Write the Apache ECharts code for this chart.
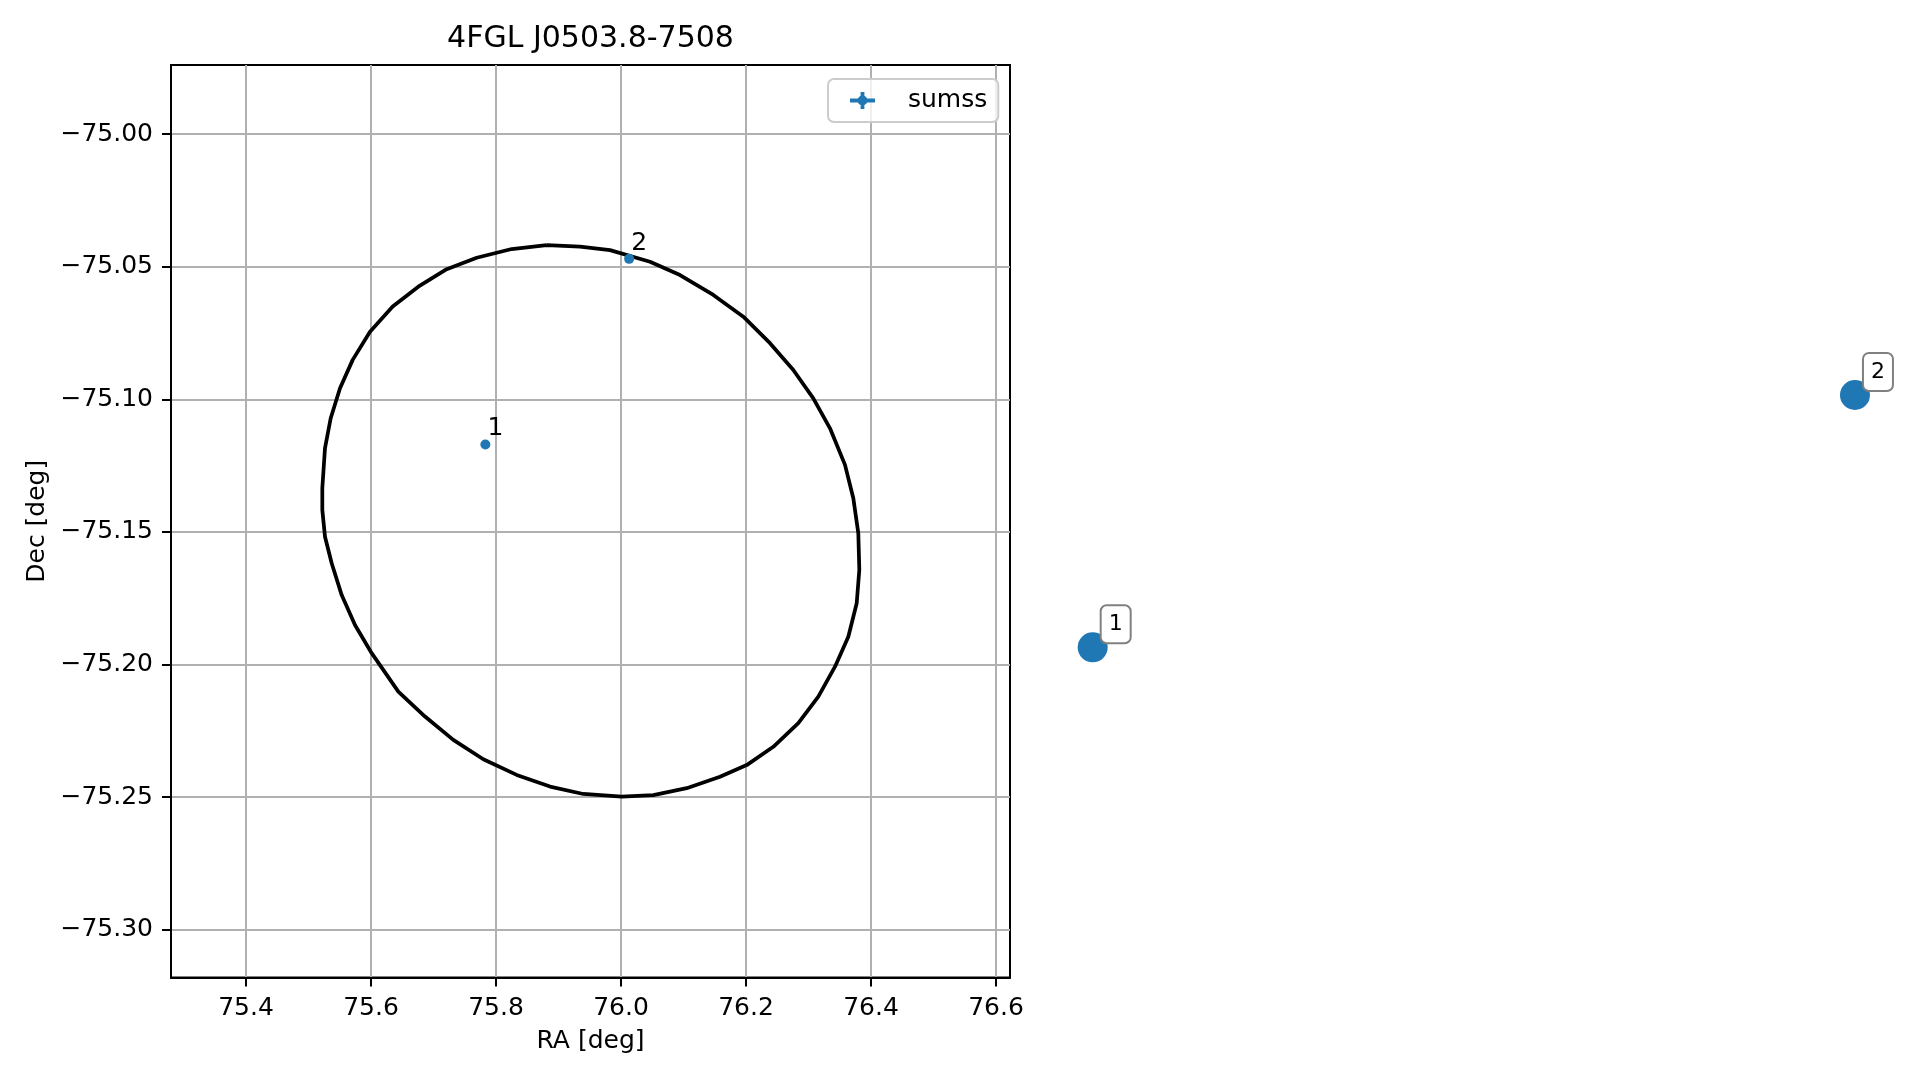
<!DOCTYPE html>
<html>
<head>
<meta charset="utf-8">
<script src="https://cdn.jsdelivr.net/npm/echarts@6/dist/echarts.min.js"></script>
<style>
html,body{margin:0;padding:0;background:#fff;}
#chart{width:1919px;height:1080px;}
</style>
</head>
<body>
<div id="chart"></div>
<script>
// ---- data ----
const chartTitle = '4FGL J0503.8-7508';
const raTicks = [75.4, 75.6, 75.8, 76.0, 76.2, 76.4, 76.6];
const decTicks = [-75.30, -75.25, -75.20, -75.15, -75.10, -75.05, -75.00];
const sourceIds = ['1', '2'];
const sourceRA = [75.783, 76.013];
const sourceDec = [-75.117, -75.047];
const ellipseRA = [75.8811, 75.9344, 75.9824, 76.0464, 76.0944, 76.1477, 76.1957, 76.2384, 76.2757, 76.3077,
  76.3344, 76.3584, 76.3717, 76.3797, 76.3813, 76.3771, 76.3637, 76.3424, 76.3157, 76.2837,
  76.2437, 76.2011, 76.1584, 76.1051, 76.0517, 76.0011, 75.9397, 75.8864, 75.8331, 75.7797,
  75.7317, 75.6864, 75.6437, 75.6011, 75.5744, 75.5531, 75.5371, 75.5264, 75.5221, 75.5221,
  75.5264, 75.5355, 75.5504, 75.5707, 75.5984, 75.6347, 75.6757, 75.7211, 75.7691, 75.8251, 75.8811];
const ellipseDec = [-75.0418, -75.0424, -75.0437, -75.0481, -75.0531, -75.0606, -75.0688, -75.0788, -75.0889, -75.0996,
  -75.1109, -75.1247, -75.1373, -75.1505, -75.1643, -75.1769, -75.1895, -75.2008, -75.2121, -75.2221,
  -75.2310, -75.2379, -75.2423, -75.2466, -75.2492, -75.2498, -75.2488, -75.2460, -75.2416, -75.2357,
  -75.2284, -75.2196, -75.2102, -75.1957, -75.1851, -75.1738, -75.1618, -75.1518, -75.1417, -75.1335,
  -75.1184, -75.1071, -75.0958, -75.0851, -75.0745, -75.0650, -75.0575, -75.0509, -75.0466, -75.0433, -75.0418];

// ---- build ----
const FONT = 'DejaVu Sans';
const BLUE = '#1f77b4';
const ellipseData = ellipseRA.map((r, i) => [r, ellipseDec[i]]);
const srcData = sourceRA.map((r, i) => ({ value: [r, sourceDec[i]], name: sourceIds[i] }));
const fmtMinus = (v, d) => v.toFixed(d).replace('-', '\u2212');

const chart = echarts.init(document.getElementById('chart'), null, { renderer: 'canvas' });
const option = {
  animation: false,
  backgroundColor: '#ffffff',
  textStyle: { fontFamily: FONT },
  title: {
    text: chartTitle,
    left: 590.5, top: 24, padding: 0, textAlign: 'center',
    textStyle: { fontFamily: FONT, fontSize: 30, fontWeight: 'normal', color: '#000' }
  },
  legend: {
    data: [{ name: 'sumss', icon: 'path://M0,6.6 L25,6.6 L25,10.4 L0,10.4 Z M10.6,0 L14.4,0 L14.4,17 L10.6,17 Z M12.5,3.5 A5,5 0 1 1 12.49,3.5 Z' }],
    left: 828, top: 79,
    orient: 'horizontal',
    itemWidth: 25, itemHeight: 17,
    padding: [9, 11, 9, 22],
    backgroundColor: 'rgba(255,255,255,0.8)',
    borderColor: '#cccccc', borderWidth: 2, borderRadius: 6,
    itemStyle: { opacity: 1 },
    formatter: '{a|{name}}',
    textStyle: { fontFamily: FONT, fontSize: 25, color: '#000',
      rich: { a: { fontFamily: FONT, fontSize: 25, color: '#000', padding: [0, 0, 0, 28] } } }
  },
  grid: [
    { left: 171, top: 65, right: 909, bottom: 102.5, show: true, borderColor: '#000', borderWidth: 2, backgroundColor: 'transparent', containLabel: false },
    { left: 0, top: 0, right: 0, bottom: 0, show: false }
  ],
  xAxis: [
    {
      gridIndex: 0, type: 'value', min: 75.28, max: 76.6224,
      name: 'RA [deg]', nameLocation: 'middle', nameGap: 51,
      nameTextStyle: { fontFamily: FONT, fontSize: 25, color: '#000' },
      axisLine: { show: true, onZero: false, lineStyle: { color: '#000', width: 2 } },
      axisTick: { show: true, length: 9, customValues: raTicks, lineStyle: { color: '#000', width: 2 } },
      axisLabel: { show: true, margin: 18, customValues: raTicks, fontFamily: FONT, fontSize: 25, color: '#000',
        formatter: v => fmtMinus(v, 1) },
      splitLine: { show: true, customValues: raTicks, lineStyle: { color: '#b0b0b0', width: 2 } }
    },
    { gridIndex: 1, type: 'value', min: 75.45331, max: 76.03232, show: false, splitLine: { show: false } }
  ],
  yAxis: [
    {
      gridIndex: 0, type: 'value', min: -75.318, max: -74.9739,
      name: 'Dec [deg]', nameLocation: 'middle', nameGap: 121, nameRotate: 90,
      nameTextStyle: { fontFamily: FONT, fontSize: 25, color: '#000' },
      axisLine: { show: true, onZero: false, lineStyle: { color: '#000', width: 2 } },
      axisTick: { show: true, length: 9, customValues: decTicks, lineStyle: { color: '#000', width: 2 } },
      axisLabel: { show: true, margin: 18, customValues: decTicks, fontFamily: FONT, fontSize: 25, color: '#000',
        formatter: v => fmtMinus(v, 2) },
      splitLine: { show: true, customValues: decTicks, lineStyle: { color: '#b0b0b0', width: 2 } }
    },
    { gridIndex: 1, type: 'value', min: -75.23705, max: -74.93741, show: false, splitLine: { show: false } }
  ],
  series: [
    {
      name: 'ellipse', type: 'line', xAxisIndex: 0, yAxisIndex: 0,
      data: ellipseData, showSymbol: false, symbol: 'none', smooth: false,
      lineStyle: { color: '#000', width: 3.75 }, z: 3, silent: true
    },
    {
      name: 'sumss', type: 'scatter', xAxisIndex: 0, yAxisIndex: 0,
      data: srcData, symbol: 'circle', symbolSize: 10,
      itemStyle: { color: BLUE, opacity: 1 }, z: 5,
      label: { show: true, position: 'inside', formatter: p => p.name, align: 'left', verticalAlign: 'middle',
        offset: [2, -15.5], fontFamily: FONT, fontSize: 25, color: '#000' }
    },
    {
      name: 'sumss-marker', type: 'scatter', xAxisIndex: 1, yAxisIndex: 1,
      data: srcData, symbol: 'circle', symbolSize: 30,
      itemStyle: { color: BLUE, opacity: 1 }, z: 5,
      label: { show: true, position: 'inside', formatter: p => p.name, align: 'center', verticalAlign: 'middle',
        offset: [23, -23], fontFamily: FONT, fontSize: 22, lineHeight: 26, color: '#000',
        backgroundColor: '#ffffff', borderColor: '#808080', borderWidth: 2, borderRadius: 5, padding: [5, 7] }
    }
  ]
};
chart.setOption(option);
</script>
</body>
</html>
